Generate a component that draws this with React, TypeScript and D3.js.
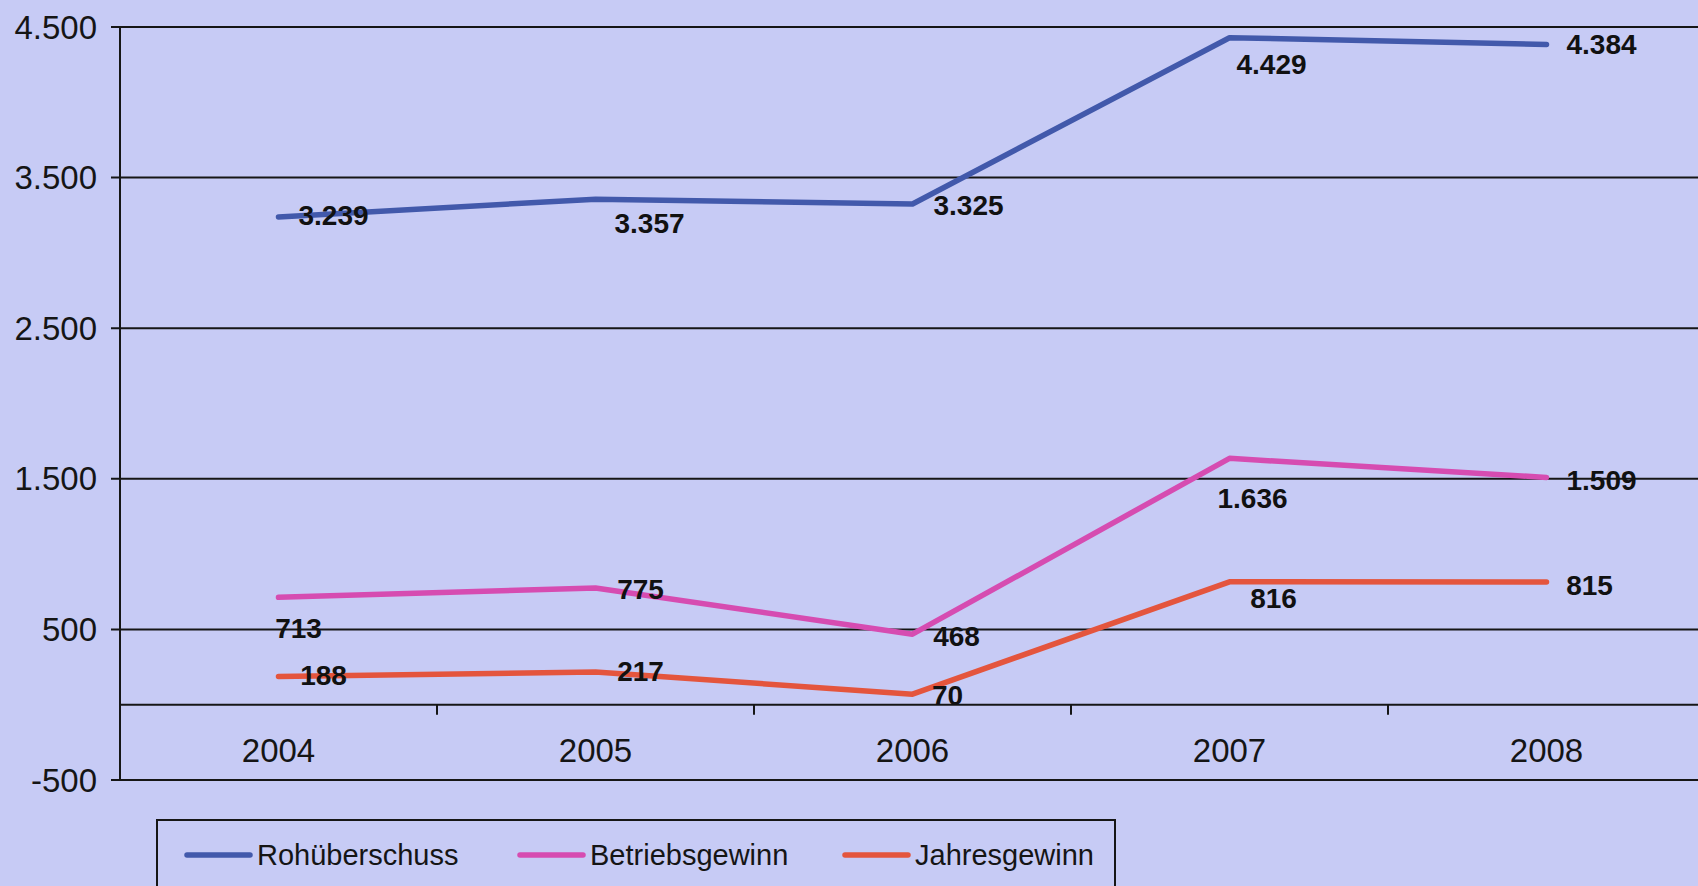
import * as d3 from "d3";

const years = ["2004", "2005", "2006", "2007", "2008"];
const rohueberschuss = [3239, 3357, 3325, 4429, 4384];
const betriebsgewinn = [713, 775, 468, 1636, 1509];
const jahresgewinn = [188, 217, 70, 816, 815];
const yTicks = [-500, 500, 1500, 2500, 3500, 4500];

const seriesNames = ["Rohüberschuss", "Betriebsgewinn", "Jahresgewinn"];
const seriesColors = ["#4259ab", "#d64cb1", "#e4553d"];

// hand-placed label offsets (px) from each point, as in the printed chart
const labelNudges = [
  [[55, -2], [54, 24], [56, 1], [42, 27], [55, 0]],
  [[20, 31], [45, 1], [44, 2], [23, 40], [55, 3]],
  [[45, -1], [45, -1], [35, 1], [44, 16], [43, 3]],
];

const W = 1698;
const H = 886;
const font = "'Liberation Sans', Arial, sans-serif";

const de = d3.formatLocale({
  decimal: ",",
  thousands: ".",
  grouping: [3],
  currency: ["", " €"],
  minus: "-",
});
const fmt = de.format(",d");

export default function App() {
  const left = 120;
  const band = 317;
  const x = d3
    .scaleBand<string>()
    .domain(years)
    .range([left, left + band * years.length]);
  const y = d3.scaleLinear().domain([-500, 4500]).range([780, 27]);

  const allSeries = [rohueberschuss, betriebsgewinn, jahresgewinn];
  const cx = (yr: string) => (x(yr) ?? 0) + x.bandwidth() / 2;
  const line = d3
    .line<number>()
    .x((_, i) => cx(years[i]))
    .y((v) => y(v));

  const boundaries = years.slice(1).map((yr) => x(yr) ?? 0);

  const legendX = [187, 520, 845];

  return (
    <svg
      width={W}
      height={H}
      style={{ position: "absolute", left: 0, top: 0, display: "block" }}
    >
      <rect width={W} height={H} fill="#c7cbf5" />

      {/* gridlines + y ticks */}
      {yTicks.map((t) => (
        <g key={t}>
          <line x1={left - 9} x2={W} y1={y(t)} y2={y(t)} stroke="#161616" strokeWidth={2} />
          <text
            x={97}
            y={y(t)}
            dy="0.35em"
            textAnchor="end"
            fontFamily={font}
            fontSize={33}
            fill="#151515"
          >
            {fmt(t)}
          </text>
        </g>
      ))}

      {/* category axis at zero */}
      <line x1={left} x2={W} y1={y(0)} y2={y(0)} stroke="#161616" strokeWidth={2} />
      {boundaries.map((bx) => (
        <line key={bx} x1={bx} x2={bx} y1={y(0)} y2={y(0) + 10} stroke="#161616" strokeWidth={2} />
      ))}
      {years.map((yr) => (
        <text
          key={yr}
          x={cx(yr)}
          y={y(-250) + 8}
          dy="0.35em"
          textAnchor="middle"
          fontFamily={font}
          fontSize={33}
          fill="#151515"
        >
          {yr}
        </text>
      ))}

      {/* value axis */}
      <line x1={left} x2={left} y1={y(4500)} y2={y(-500)} stroke="#161616" strokeWidth={2} />

      {/* series */}
      {allSeries.map((vals, s) => (
        <path
          key={s}
          d={line(vals) ?? ""}
          fill="none"
          stroke={seriesColors[s]}
          strokeWidth={5.5}
          strokeLinecap="round"
          strokeLinejoin="round"
        />
      ))}

      {/* data labels */}
      {allSeries.map((vals, s) =>
        vals.map((v, i) => (
          <text
            key={`${s}-${i}`}
            x={cx(years[i]) + labelNudges[s][i][0]}
            y={y(v) + labelNudges[s][i][1]}
            dy="0.35em"
            textAnchor="middle"
            fontFamily={font}
            fontWeight="bold"
            fontSize={28}
            fill="#111"
          >
            {fmt(v)}
          </text>
        ))
      )}

      {/* legend */}
      <rect x={157} y={820} width={958} height={100} fill="none" stroke="#161616" strokeWidth={2} />
      {seriesNames.map((name, s) => (
        <g key={name}>
          <line
            x1={legendX[s]}
            x2={legendX[s] + 63}
            y1={855}
            y2={855}
            stroke={seriesColors[s]}
            strokeWidth={5.5}
            strokeLinecap="round"
          />
          <text
            x={legendX[s] + 70}
            y={855}
            dy="0.35em"
            fontFamily={font}
            fontSize={29}
            fill="#151515"
          >
            {name}
          </text>
        </g>
      ))}
    </svg>
  );
}
